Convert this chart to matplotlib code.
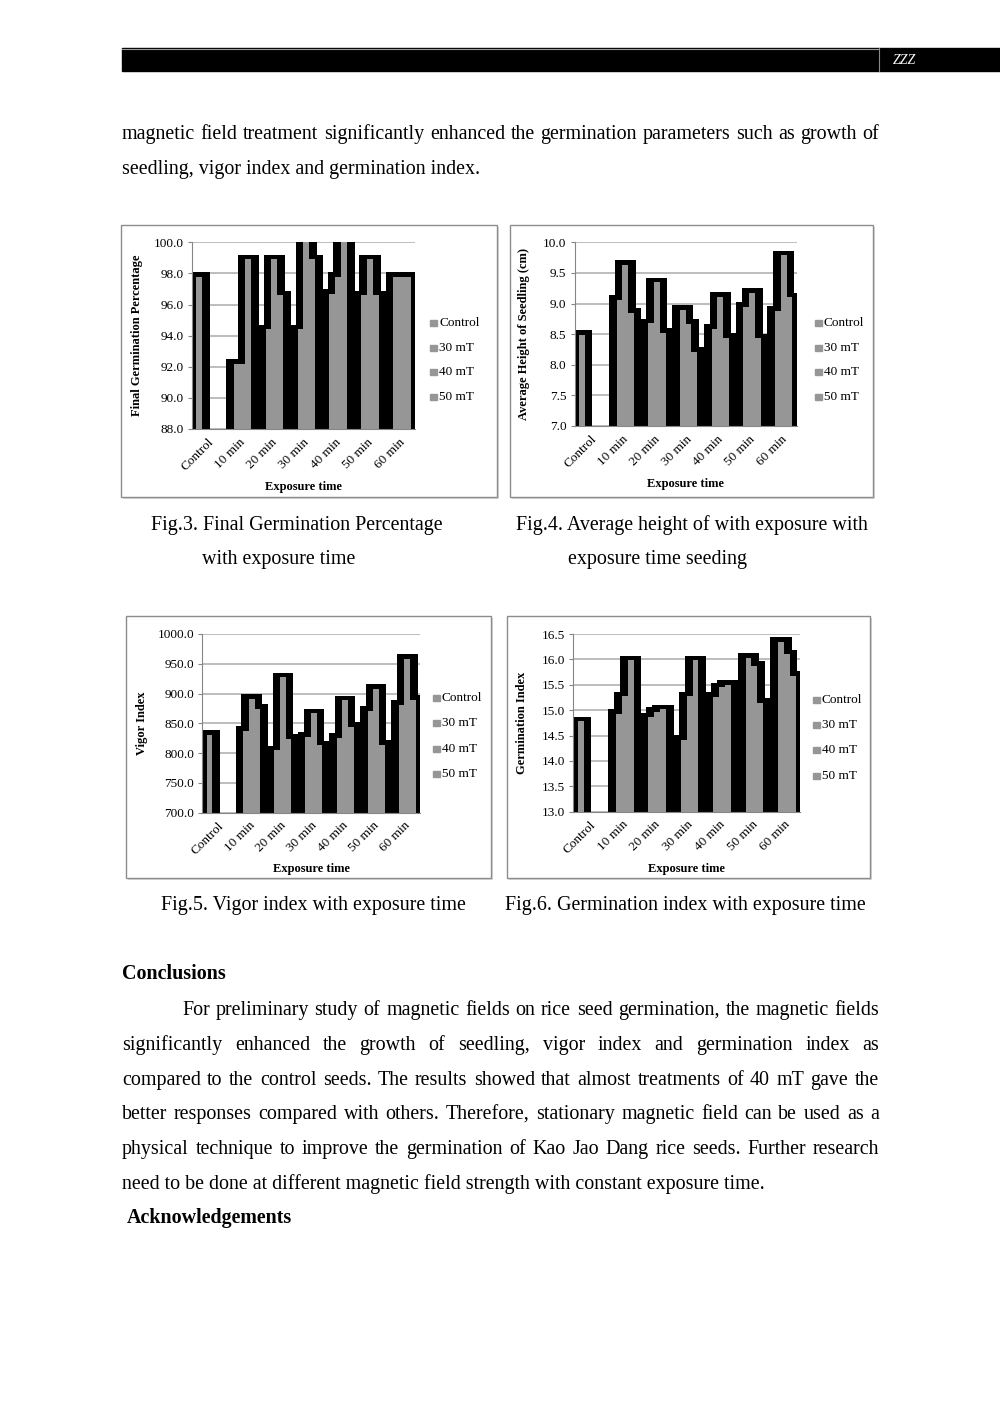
import matplotlib
matplotlib.use('Agg')
import matplotlib.pyplot as plt
from matplotlib.patches import Rectangle
import numpy as np

plt.rcParams['font.family'] = ['Liberation Serif', 'DejaVu Serif']

# ---- data ----
times = ['Control', '10 min', '20 min', '30 min', '40 min', '50 min', '60 min']
series = ['Control', '30 mT', '40 mT', '50 mT']

fgp_control = 97.8
fgp_30 = [92.2, 94.4, 94.4, 96.7, 96.6, 97.8]
fgp_40 = [92.2, 98.9, 100.0, 97.8, 98.9, 97.8]
fgp_50 = [98.9, 96.6, 98.9, 100.0, 96.6, 97.8]

height_control = 8.49
height_30 = [9.06, 8.68, 8.90, 8.59, 8.95, 8.88]
height_40 = [9.63, 9.35, 8.67, 9.11, 9.18, 9.79]
height_50 = [8.85, 8.52, 8.21, 8.44, 8.43, 9.10]

vigor_control = 831
vigor_30 = [837, 805, 827, 826, 871, 881]
vigor_40 = [891, 927, 867, 889, 908, 958]
vigor_50 = [874, 824, 813, 844, 814, 890]

gi_control = 14.78
gi_30 = [14.93, 14.86, 14.42, 15.26, 16.03, 16.35]
gi_40 = [15.27, 14.97, 15.27, 15.45, 15.87, 16.10]
gi_50 = [15.98, 15.02, 15.98, 15.50, 15.15, 15.68]

W, H = 1000, 1413
fig = plt.figure(figsize=(W / 100, H / 100), dpi=100)
bg = fig.add_axes([0, 0, 1, 1], zorder=0)
bg.set_xlim(0, W)
bg.set_ylim(H, 0)
bg.axis('off')

GRAY = '#969696'
BODY = 14.4


def px_axes(left, top, right, bottom):
    return fig.add_axes([left / W, 1 - bottom / H, (right - left) / W, (bottom - top) / H], zorder=1)


def chart(box, area, control, s30, s40, s50, ylim, step, ylabel, ylab_x, xlab_y, leg_x, leg_ys):
    # outer frame with a light shadow
    bx0, by0, bx1, by1 = box
    bg.add_patch(Rectangle((bx0 + 2, by0 + 2), bx1 - bx0, by1 - by0, facecolor='#d9d9d9',
                           edgecolor='none', zorder=1))
    bg.add_patch(Rectangle((bx0, by0), bx1 - bx0, by1 - by0, facecolor='white',
                           edgecolor='#8c8c8c', lw=1, zorder=2))

    ax = px_axes(*area)
    ax.set_facecolor('none')
    ymin, ymax = ylim
    w = 1 / 5.5
    hx = 0.24
    hy = 4.6 * (ymax - ymin) / (area[3] - area[1])

    xs = [0 + (0 - 1.5) * w]
    vals = [control]
    for j, s in enumerate([s30, s40, s50], start=1):
        for i, v in enumerate(s, start=1):
            xs.append(i + (j - 1.5) * w)
            vals.append(v)
    xs = np.array(xs)
    vals = np.array(vals)

    ax.bar(xs, vals + hy - ymin, width=w + 2 * hx, bottom=ymin, color='black', zorder=2)
    ax.bar(xs, vals - ymin, width=w, bottom=ymin, color=GRAY, zorder=3)

    ax.set_xlim(-0.5, 6.5)
    ax.set_ylim(ymin, ymax)
    ax.set_yticks(np.arange(ymin, ymax + step / 2, step))
    ax.yaxis.set_major_formatter(matplotlib.ticker.FormatStrFormatter('%.1f'))
    ax.yaxis.grid(True, color='#bdbdbd', lw=1.4, zorder=0)
    ax.set_axisbelow(True)
    ax.set_xticks(range(7))
    ax.set_xticklabels(times, rotation=45, ha='right', rotation_mode='anchor', fontsize=9.5)
    ax.tick_params(axis='x', length=0, pad=5)
    ax.tick_params(axis='y', length=3, color='#868686', labelsize=9.5, pad=3)
    for sp in ['top', 'right']:
        ax.spines[sp].set_visible(False)
    ax.spines['left'].set_color('#868686')
    ax.spines['bottom'].set_color('#868686')

    cy = (area[1] + area[3]) / 2
    bg.text(ylab_x, cy, ylabel, rotation=90, ha='center', va='center', fontsize=9,
            fontweight='bold', zorder=3)
    bg.text((area[0] + area[2]) / 2, xlab_y, 'Exposure time', ha='center', va='center',
            fontsize=9, fontweight='bold', zorder=3)
    for name, ly in zip(series, leg_ys):
        bg.add_patch(Rectangle((leg_x, ly - 3.5), 6.5, 6.5, color=GRAY, zorder=3))
        bg.text(leg_x + 9, ly, name, ha='left', va='center', fontsize=9.5, zorder=3)
    return ax


chart((121, 225, 497, 497), (191.7, 242.3, 415, 429), fgp_control, fgp_30, fgp_40, fgp_50,
      (88, 100), 2, 'Final Germination Percentage', 137, 487, 430, [323, 348, 372, 397])
chart((510, 225, 873, 497), (574.7, 242.3, 796.7, 426), height_control, height_30, height_40,
      height_50, (7, 10), 0.5, 'Average Height of Seedling (cm)', 524, 484, 815,
      [323, 348, 372, 397])
chart((126, 616, 491, 878), (202.3, 634, 420, 812.7), vigor_control, vigor_30, vigor_40, vigor_50,
      (700, 1000), 50, 'Vigor Index', 142, 869, 433, [698, 723, 749, 774])
chart((507, 616, 870, 878), (573.3, 634, 800, 811.7), gi_control, gi_30, gi_40, gi_50,
      (13, 16.5), 0.5, 'Germination Index', 522, 869, 813, [700, 725, 750, 776])

# ---- header bar ----
bg.add_patch(Rectangle((122, 48), 878, 23, color='black', zorder=1))
bg.plot([122, 879], [48.5, 48.5], color='#9a9a9a', lw=0.8, zorder=2)
bg.plot([879, 879], [48, 71], color='#8a8a8a', lw=0.8, zorder=2)
bg.text(893, 60, 'ZZZ', color='white', fontsize=10, style='italic', ha='left', va='center',
        zorder=3)

# ---- page text ----
renderer = fig.canvas.get_renderer()


def line(s, x, y, justify_to=None, bold=False):
    kw = dict(fontsize=BODY, va='baseline', ha='left', fontweight='bold' if bold else 'normal')
    if justify_to is None:
        bg.text(x, y, s, **kw)
        return
    words = s.split()
    objs = [bg.text(0, y, wd, **kw) for wd in words]
    widths = [o.get_window_extent(renderer).width for o in objs]
    gap = (justify_to - x - sum(widths)) / (len(words) - 1)
    cx = x
    for o, wd in zip(objs, widths):
        o.set_x(cx)
        cx += wd + gap


R = 879
line('magnetic field treatment significantly enhanced the germination parameters such as growth of',
     122, 139, R)
line('seedling, vigor index and germination index.', 122, 174)

line('Fig.3. Final Germination Percentage', 151, 530)
line('with exposure time', 202, 564)
line('Fig.4. Average height of with exposure with', 516, 530)
line('exposure time seeding', 568, 564)
line('Fig.5. Vigor index with exposure time', 161, 910)
line('Fig.6. Germination index with exposure time', 505, 910)

line('Conclusions', 122, 979, bold=True)
para = [
    ('For preliminary study of magnetic fields on rice seed germination, the magnetic fields', 182, R),
    ('significantly enhanced the growth of seedling, vigor index and germination index as', 122, R),
    ('compared to the control seeds. The results showed that almost treatments of 40 mT gave the', 122, R),
    ('better responses compared with others. Therefore, stationary magnetic field can be used as a', 122, R),
    ('physical technique to improve the germination of Kao Jao Dang rice seeds. Further research', 122, R),
    ('need to be done at different magnetic field strength with constant exposure time.', 122, None),
]
for k, (s, x0, x1) in enumerate(para):
    line(s, x0, 1015 + k * 34.8, x1)
line('Acknowledgements', 127, 1223, bold=True)

fig.savefig('out.png', dpi=100)
